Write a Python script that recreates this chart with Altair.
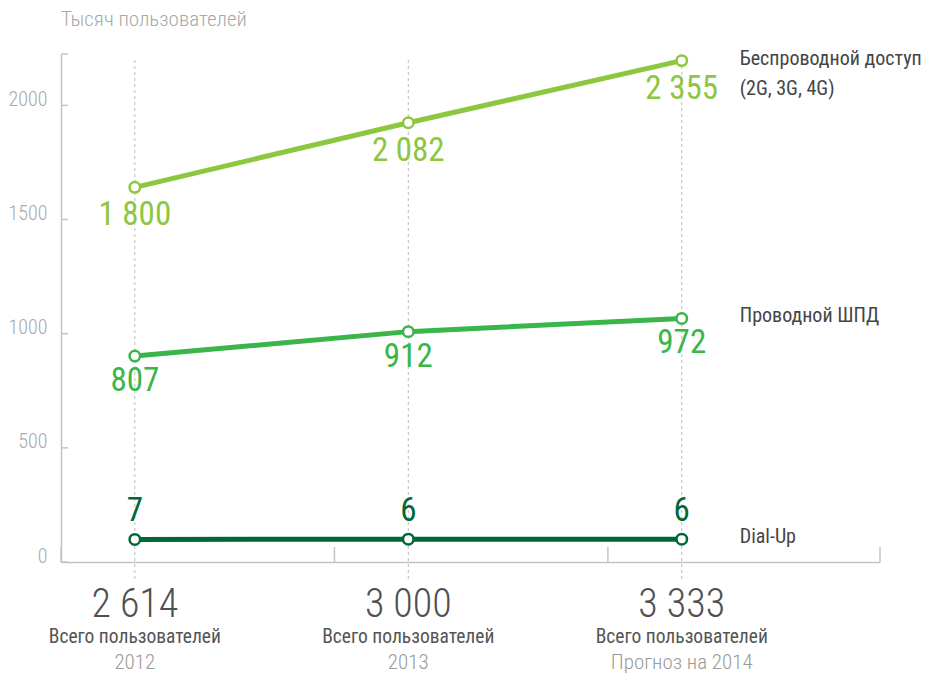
import altair as alt
import pandas as pd

FONT = "Roboto Condensed, Liberation Sans Narrow, Roboto, sans-serif"

years = [2012, 2013, 2014]
series = ["Беспроводной доступ", "Проводной ШПД", "Dial-Up"]
series_sub = ["(2G, 3G, 4G)", "", ""]
colors = ["#8dc63f", "#3ab54a", "#006837"]

# plotted heights (as drawn in the picture)
wireless = [1641, 1924, 2196]
wired = [902, 1009, 1067]
dialup = [99, 100, 100]

# value labels printed next to each point
wireless_lbl = ["1 800", "2 082", "2 355"]
wired_lbl = ["807", "912", "972"]
dialup_lbl = ["7", "6", "6"]

totals = ["2 614", "3 000", "3 333"]
total_caption = ["Всего пользователей", "Всего пользователей", "Всего пользователей"]
year_lbl = ["2012", "2013", "Прогноз на 2014"]

y_ticks = [0, 500, 1000, 1500, 2000]
y_max = 2225
x_domain = [2011.73, 2014.725]
x_ticks = [2011.73, 2012.73, 2013.73, 2014.725]

rows = []
for s, vals, lbls in zip(series, [wireless, wired, dialup], [wireless_lbl, wired_lbl, dialup_lbl]):
    for yr, v, l in zip(years, vals, lbls):
        rows.append({"series": s, "year": yr, "value": v, "label": l})
df = pd.DataFrame(rows)

last = df[df["year"] == years[-1]].copy()
last["sub"] = series_sub

bottom = pd.DataFrame({"year": years, "total": totals, "caption": total_caption, "ylbl": year_lbl})
yt = pd.DataFrame({"value": y_ticks + [y_max]})
xt = pd.DataFrame({"year": x_ticks})
title_df = pd.DataFrame({"t": ["Тысяч пользователей"]})

AX_COLOR = "#c4c4c4"


def X(field="year"):
    return alt.X(f"{field}:Q",
                 scale=alt.Scale(domain=x_domain, nice=False, zero=False),
                 axis=alt.Axis(labels=False, ticks=False, grid=False, title=None,
                               domainColor=AX_COLOR, domainWidth=1.5))


def Y(field="value"):
    return alt.Y(f"{field}:Q",
                 scale=alt.Scale(domain=[0, y_max], nice=False, zero=True),
                 axis=alt.Axis(values=y_ticks, ticks=False, grid=False, title=None, format="d",
                               labelPadding=14, labelBaseline="alphabetic",
                               labelFontSize=20, labelFontWeight=300,
                               labelColor="#a8a8a8", labelFont=FONT,
                               labelOverlap=False, domainColor=AX_COLOR, domainWidth=1.5))


color = alt.Color("series:N", scale=alt.Scale(domain=series, range=colors), legend=None)

grid = alt.Chart(pd.DataFrame({"year": years})).mark_rule(
    color="#bdbdbd", strokeWidth=1, strokeDash=[3, 3]
).encode(x=X(), y=alt.value(6), y2=alt.value(526))

ytick_rules = alt.Chart(yt).mark_rule(color=AX_COLOR, strokeWidth=1.5).encode(
    x=alt.value(0), x2=alt.value(7), y=Y())

xtick_rules = alt.Chart(xt).mark_rule(color=AX_COLOR, strokeWidth=1.5).encode(
    x=X(), y=alt.value(508), y2=alt.value(493))

lines = alt.Chart(df).mark_line(strokeWidth=5).encode(x=X(), y=Y(), color=color)

points = alt.Chart(df).mark_point(shape="circle", size=110, strokeWidth=2.5, opacity=1, filled=False).encode(
    x=X(), y=Y(), stroke=color, fill=alt.value("white"))

lbl_common = dict(font=FONT, fontSize=33, fontWeight=400, align="center", baseline="middle")
lbl_wireless = alt.Chart(df[df.series == series[0]]).mark_text(dy=28, **lbl_common).encode(
    x=X(), y=Y(), text="label:N", color=alt.value(colors[0]))
lbl_wired = alt.Chart(df[df.series == series[1]]).mark_text(dy=25, **lbl_common).encode(
    x=X(), y=Y(), text="label:N", color=alt.value(colors[1]))
lbl_dial = alt.Chart(df[df.series == series[2]]).mark_text(dy=-28, **lbl_common).encode(
    x=X(), y=Y(), text="label:N", color=alt.value(colors[2]))

names = alt.Chart(last).mark_text(font=FONT, fontSize=20, fontWeight=400, align="left", baseline="middle",
                                  dx=58, dy=-2, color="#454545").encode(x=X(), y=Y(), text="series:N")
subs = alt.Chart(last).mark_text(font=FONT, fontSize=20, fontWeight=400, align="left", baseline="middle",
                                 dx=58, dy=28, color="#454545").encode(x=X(), y=Y(), text="sub:N")

tot = alt.Chart(bottom).mark_text(font=FONT, fontSize=40, fontWeight=300, align="center", baseline="middle",
                                  color="#505050").encode(x=X(), y=alt.value(551), text="total:N")
cap = alt.Chart(bottom).mark_text(font=FONT, fontSize=19.5, fontWeight=400, align="center", baseline="middle",
                                  color="#555555").encode(x=X(), y=alt.value(583), text="caption:N")
yrs = alt.Chart(bottom).mark_text(font=FONT, fontSize=21, fontWeight=300, align="center", baseline="middle",
                                  color="#9a9a9a").encode(x=X(), y=alt.value(609), text="ylbl:N")

ttl = alt.Chart(title_df).mark_text(font=FONT, fontSize=21, fontWeight=300, align="left", baseline="middle",
                                    color="#a8a8a8").encode(x=alt.value(0), y=alt.value(-34), text="t:N")

chart = alt.layer(
    grid, ytick_rules, xtick_rules, lines, points,
    lbl_wireless, lbl_wired, lbl_dial, names, subs, tot, cap, yrs, ttl
).properties(
    width=819, height=508,
    padding={"left": 53, "top": 46, "right": 46, "bottom": 114},
    autosize=alt.AutoSizeParams(type="none"),
).configure_view(stroke=None)

chart.save("out.html", embed_options={"renderer": "svg", "actions": False})
